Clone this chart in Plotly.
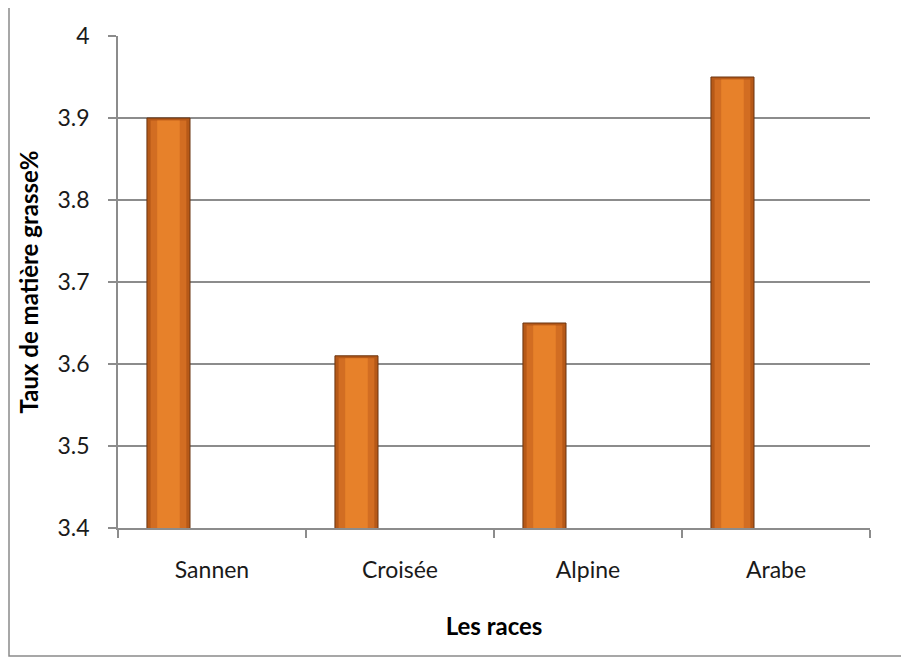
import plotly.graph_objects as go

races = ["Sannen", "Croisée", "Alpine", "Arabe"]
taux_mg = [3.90, 3.61, 3.65, 3.95]

FONT = "Lato"
GRID = "#8c8c8c"
OFF = 8  # browser body margin

BAR_W = 0.229
BAR_OFF = -0.346

fig = go.Figure()
# layered bars to suggest the shaded (bevelled) look of the original
layers = [
    (BAR_W, "#B65918", dict(color="#6B3510", width=1)),
    (0.19, "#D26D22", dict(width=0)),
    (0.12, "#E7812A", dict(width=0)),
]
for i, (w, col, ln) in enumerate(layers):
    fig.add_trace(go.Bar(
        x=races, y=taux_mg if i == 0 else [v - 0.003 for v in taux_mg],
        width=w, offset=BAR_OFF + (BAR_W - w) / 2,
        marker=dict(color=col, line=ln),
        hoverinfo="x+y" if i == 0 else "skip", showlegend=False,
    ))

L, R, T, B = 118 - OFF, 870 - OFF, 36 - OFF, 528 - OFF
W, H = 909 - OFF, 657 - OFF
pw, ph = R - L, B - T

fig.update_layout(
    width=W, height=H,
    margin=dict(l=L, r=W - R, t=T, b=H - B),
    paper_bgcolor="white", plot_bgcolor="white",
    barmode="overlay",
    font=dict(family=FONT, size=23, color="#222"),
    xaxis=dict(
        type="category", tickson="boundaries",
        showline=True, linecolor=GRID, linewidth=1.5,
        ticks="outside", ticklen=8, tickcolor=GRID, tickwidth=1.5,
        showgrid=False, ticklabelstandoff=21,
        tickfont=dict(family=FONT, size=23, color="#1a1a1a"),
        title=dict(text="<b>Les races</b>", font=dict(family=FONT, size=24, color="#000"), standoff=36),
    ),
    yaxis=dict(
        range=[3.4, 4.0], dtick=0.1, tick0=3.4,
        showline=True, linecolor=GRID, linewidth=1.5,
        ticks="outside", ticklen=8, tickcolor=GRID, tickwidth=1.5,
        showgrid=True, gridcolor=GRID, gridwidth=1.5,
        zeroline=False, ticklabelstandoff=14,
        tickformat=".1~f",
        tickfont=dict(family=FONT, size=23, color="#1a1a1a"),
        title=dict(text="<b>Taux de matière grasse%</b>", font=dict(family=FONT, size=24, color="#000"), standoff=12),
    ),
    shapes=[dict(
        type="rect", xref="paper", yref="paper",
        x0=(9 - 118) / pw, x1=1 + (930 - 870) / pw,
        y0=-(656 - 528) / ph, y1=1 + (36 - 7) / ph,
        line=dict(color="#8a8a8a", width=1.5), layer="below",
    )],
)

fig.write_html("out.html")
